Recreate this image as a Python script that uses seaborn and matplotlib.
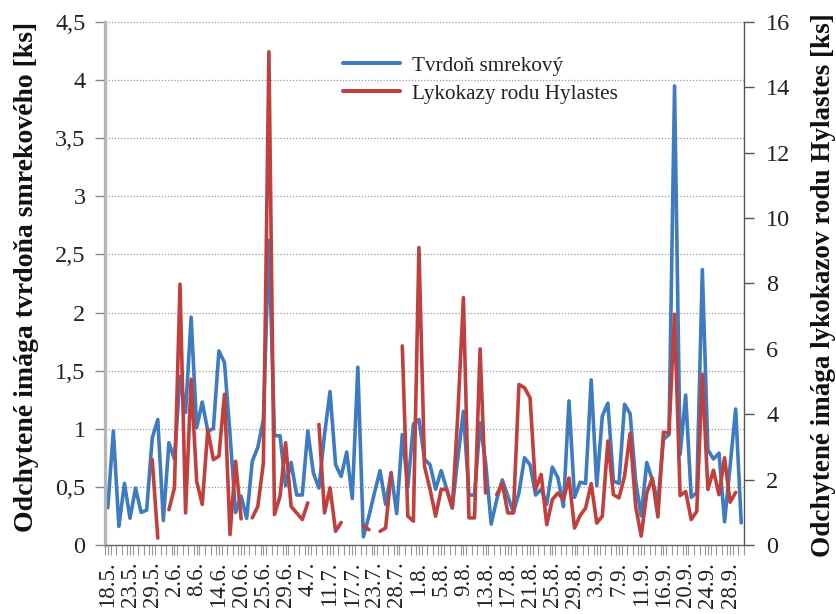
import numpy as np
import pandas as pd
import matplotlib
matplotlib.use("Agg")
import matplotlib.pyplot as plt
import seaborn as sns
from matplotlib.lines import Line2D

nan = np.nan

# Tvrdoň smrekový (left axis), one value per trap check
tvrdon = [
    0.32, 0.98, 0.16, 0.53, 0.23, 0.49, 0.28, 0.30, 0.92, 1.08,
    0.21, 0.88, 0.74, 1.45, 1.14, 1.96, 1.01, 1.23, 0.98, 1.00,
    1.67, 1.57, 0.95, 0.28, 0.42, 0.23, 0.72, 0.84, 1.08, 2.62,
    0.94, 0.94, 0.51, 0.71, 0.43, 0.43, 0.98, 0.62, 0.49, 0.95,
    1.32, 0.69, 0.59, 0.80, 0.40, 1.53, 0.07, 0.25, 0.45, 0.64,
    0.35, 0.62, 0.27, 0.95, 0.50, 1.04, 1.08, 0.74, 0.69, 0.48,
    0.64, 0.48, 0.32, 0.75, 1.15, 0.43, 0.43, 1.05, 0.71, 0.18,
    0.39, 0.56, 0.42, 0.28, 0.45, 0.75, 0.69, 0.43, 0.48, 0.35,
    0.67, 0.58, 0.33, 1.24, 0.41, 0.54, 0.53, 1.42, 0.51, 1.11,
    1.22, 0.55, 0.53, 1.21, 1.13, 0.55, 0.25, 0.71, 0.56, 0.36,
    0.91, 0.95, 3.95, 0.78, 1.29, 0.41, 0.45, 2.37, 0.82, 0.74,
    0.79, 0.20, 0.68, 1.17, 0.19,
]

# Lykokazy rodu Hylastes (right axis), NaN = no record
hylastes = [
    nan, nan, nan, nan, nan, nan, nan, nan, 2.61, 0.21,
    nan, 1.08, 1.75, 7.98, 0.98, 5.07, 1.95, 1.24, 3.53, 2.61,
    2.72, 4.61, 0.32, 2.56, 0.80, nan, 0.83, 1.18, 2.50, 15.09,
    0.93, 1.49, 3.13, 1.18, 0.98, 0.78, 1.29, nan, 3.69, 0.98,
    1.75, 0.42, 0.69, nan, nan, nan, 0.59, 0.47, nan, 0.42,
    0.52, 2.21, nan, 6.09, 0.88, 0.73, 9.10, 2.41, 1.70, 0.88,
    1.70, 1.70, 1.13, 4.00, 7.57, 0.83, 0.83, 6.00, 1.59, nan,
    1.54, 1.88, 0.98, 0.98, 4.91, 4.81, 4.50, 1.70, 2.16, 0.62,
    1.39, 1.59, 1.39, 2.05, 0.52, 0.90, 1.13, 1.88, 0.67, 0.88,
    3.18, 1.54, 1.44, 2.10, 3.41, 1.18, 0.27, 1.59, 2.05, 0.86,
    3.45, 3.43, 7.06, 1.51, 1.64, 0.78, 1.03, 5.22, 1.70, 2.29,
    1.54, 2.67, 1.31, 1.61, nan,
]

date_labels = ["18.5.", "23.5.", "29.5.", "2.6.", "8.6.", "14.6.", "20.6.",
               "25.6.", "29.6.", "4.7.", "11.7.", "17.7.", "23.7.", "28.7.",
               "1.8.", "5.8.", "9.8.", "13.8.", "17.8.", "21.8.", "25.8.",
               "29.8.", "3.9.", "7.9.", "11.9.", "16.9.", "20.9.", "24.9.",
               "28.9."]
label_step = 4

left_ticks = [0, 0.5, 1, 1.5, 2, 2.5, 3, 3.5, 4, 4.5]
left_tick_labels = ["0", "0,5", "1", "1,5", "2", "2,5", "3", "3,5", "4", "4,5"]
right_ticks = [0, 2, 4, 6, 8, 10, 12, 14, 16]

series_names = ["Tvrdoň smrekový", "Lykokazy rodu Hylastes"]
left_title = "Odchytené imága tvrdoňa smrekového [ks]"
right_title = "Odchytené imága lykokazov rodu Hylastes [ks]"

BLUE = "#3f7bc1"
RED = "#c0403e"

sns.set_theme(style="white")
plt.rcParams["font.family"] = ["Liberation Serif", "DejaVu Serif"]

n = len(tvrdon)
idx = np.arange(n)

def segments(values):
    seg = []
    s = 0
    prev_nan = True
    for v in values:
        if np.isnan(v):
            seg.append(-1)
            prev_nan = True
        else:
            if prev_nan:
                s += 1
            seg.append(s)
            prev_nan = False
    return seg

df_b = pd.DataFrame({"x": idx, "y": tvrdon})
df_b["seg"] = segments(tvrdon)
df_b = df_b[df_b.seg >= 0]
df_r = pd.DataFrame({"x": idx, "y": hylastes})
df_r["seg"] = segments(hylastes)
df_r = df_r[df_r.seg >= 0]

W, H = 836, 614
fig = plt.figure(figsize=(W / 100, H / 100), dpi=100)
ax = fig.add_axes([105 / W, 1 - 545 / H, (744 - 105) / W, (545 - 22) / H])
ax2 = ax.twinx()

sns.lineplot(data=df_b, x="x", y="y", units="seg", estimator=None, ax=ax,
             color=BLUE, linewidth=2.6, legend=False)
sns.lineplot(data=df_r, x="x", y="y", units="seg", estimator=None, ax=ax2,
             color=RED, linewidth=2.6, legend=False)

ax.set_xlim(-0.5, n - 0.5)
ax.set_ylim(0, 4.5)
ax2.set_ylim(0, 16)

ax.set_yticks(left_ticks)
ax.set_yticklabels(left_tick_labels)
ax2.set_yticks(right_ticks)
ax2.set_yticklabels([str(t) for t in right_ticks])

ax.set_xticks(np.arange(0, n, label_step)[:len(date_labels)])
ax.set_xticklabels(date_labels, rotation=90, va="top")
ax.set_xticks(np.arange(-0.5, n, 1), minor=True)

ax.grid(axis="y", linestyle=(0, (1, 1.5)), color="#9a9a9a", linewidth=0.9)
ax.set_axisbelow(True)

ax.set_xlabel("")
ax.set_ylabel("")
ax2.set_ylabel("")
fig.text(27 / W, 1 - 277 / H, left_title, rotation=90, ha="center", va="center",
         fontsize=20, fontweight="bold", color="#111111")
fig.text(823 / W, 1 - 285 / H, right_title, rotation=90, ha="center", va="center",
         fontsize=19.5, fontweight="bold", color="#111111")

for a in (ax, ax2):
    for s in a.spines.values():
        s.set_visible(False)
ax.spines["left"].set_visible(True)
ax.spines["left"].set_color("#b5b5b5")
ax.spines["left"].set_linewidth(2.4)
ax.spines["bottom"].set_visible(True)
ax.spines["bottom"].set_color("#666666")
ax.spines["bottom"].set_linewidth(1.0)
ax2.spines["right"].set_visible(True)
ax2.spines["right"].set_color("#555555")
ax2.spines["right"].set_linewidth(1.0)

ax.tick_params(axis="y", which="major", left=True, length=7, width=1.0,
               color="#888888", labelsize=17.5, labelcolor="#222222", pad=7)
ax2.tick_params(axis="y", which="major", right=True, length=7, width=1.0,
                color="#555555", labelsize=17.5, labelcolor="#222222", pad=9)
ax.tick_params(axis="x", which="major", bottom=True, length=7, width=0.8,
               color="#999999", labelsize=16.5, labelcolor="#222222", pad=5)
ax.tick_params(axis="x", which="minor", bottom=True, length=7, width=0.8,
               color="#999999")

handles = [Line2D([0], [0], color=BLUE, linewidth=2.9),
           Line2D([0], [0], color=RED, linewidth=2.9)]
leg = ax2.legend(handles, series_names, loc="upper left",
                 bbox_to_anchor=((343 - 105) / 639, (545 - 56) / 523),
                 frameon=False, fontsize=15.2, borderpad=0, borderaxespad=0,
                 handlelength=2.7, handletextpad=0.57, labelspacing=0.38)
for t in leg.get_texts():
    t.set_color("#222222")

fig.savefig("out.png", dpi=100)
